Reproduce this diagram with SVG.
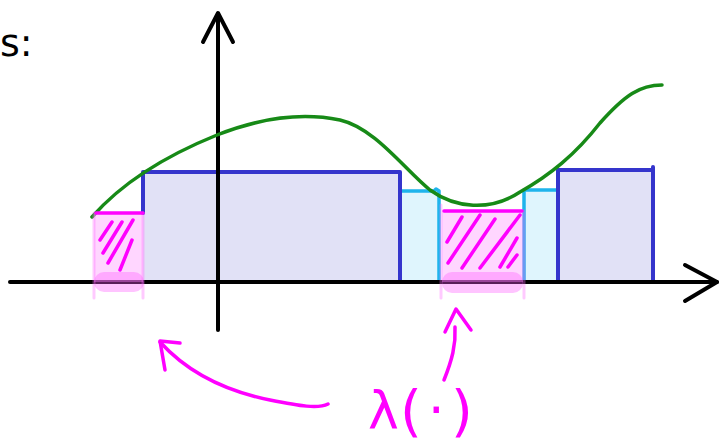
<svg xmlns="http://www.w3.org/2000/svg" width="720" height="442" viewBox="0 0 720 442">
<style>
.ax{fill:none;stroke:#000;stroke-width:4;stroke-linecap:round;stroke-linejoin:round}
.blue{fill:none;stroke:#3535cc;stroke-width:4;stroke-linecap:round;stroke-linejoin:round}
.cyan{fill:none;stroke:#1eb4ec;stroke-width:3.5;stroke-linecap:round;stroke-linejoin:round}
.green{fill:none;stroke:#178a17;stroke-width:3.5;stroke-linecap:round}
.mag{fill:none;stroke:#ff00ff;stroke-width:3.5;stroke-linecap:round;stroke-linejoin:round}
.pale{fill:none;stroke:#ff66ff;stroke-opacity:0.35;stroke-width:3;stroke-linecap:round}
.pinkfill{fill:#ff99ff;fill-opacity:0.4}
.hl{fill:#ff55ff;fill-opacity:0.35}
.lav{fill:#e1e1f6}
.lcy{fill:#dff5fd}
.lbl{font-family:"DejaVu Sans",sans-serif;fill:#ff00ff}
</style>
<rect width="720" height="442" fill="#fff"/>
<text x="0" y="56" font-family="DejaVu Sans, sans-serif" font-size="38" fill="#000">s:</text>
<g id="fills">
<rect class="lav" x="143" y="172" width="257" height="110"/>
<rect class="lcy" x="400" y="191" width="40" height="91"/>
<rect class="lcy" x="524" y="191" width="34" height="91"/>
<rect class="lav" x="558" y="170" width="95" height="112"/>
</g>
<g id="step-lines">
<path class="cyan" d="M400,191 H434 L436,189 L439,191 V282"/>
<path class="cyan" d="M524,282 V190 H557"/>
<path class="blue" d="M143,213 V172 H400 V282"/>
<path class="blue" d="M558,282 V170 H653 V282 M653,282 V167"/>
</g>
<g id="axes">
<path class="ax" d="M10,282 H717"/>
<path class="ax" d="M685,265 L717,282 L685,301"/>
<path class="ax" d="M218,330 V14"/>
<path class="ax" d="M203,42 L218,13 L233,42"/>
</g>
<g id="green-curve">
<path class="green" d="M92,217 C120,185 160,158 217,135 C260,118 300,112 340,120 C375,128 405,170 430,190 C455,208 490,212 520,192 C550,175 575,155 600,123 C625,95 640,85 662,85"/>
</g>
<g id="pink-left">
<rect class="pinkfill" x="94" y="213" width="49" height="69"/>
<rect class="hl" x="94" y="272" width="50" height="20" rx="10"/>
<path class="pale" d="M94,213 V298 M143,213 V298"/>
<path class="mag" d="M96,213 H143"/>
<path class="mag" d="M100,240 L112,222 M103,253 L122,222 M108,263 L133,220 M120,270 L132,240"/>
</g>
<g id="pink-mid">
<rect class="pinkfill" x="442" y="211" width="81" height="71"/>
<rect class="hl" x="442" y="272" width="81" height="21" rx="10"/>
<path class="pale" d="M441,205 V298 M524,211 V298"/>
<path class="mag" d="M444,211 H522"/>
<path class="mag" d="M447,242 L462,217 M448,263 L480,215 M462,268 L495,219 M480,268 L520,215 M500,267 L517,238 M508,267 L517,255"/>
</g>
<g id="connectors">
<path class="mag" d="M328,404 C318,409 300,406 270,400 C230,392 190,375 160,342"/>
<path class="mag" d="M180,343 L160,341 L165,370"/>
<path class="mag" d="M444,380 C452,360 456,345 455,327"/>
<path class="mag" d="M445,332 L456,309 L471,330"/>
</g>
<g id="label">
<text class="lbl" font-size="52" y="428"><tspan x="368">λ</tspan><tspan x="400" font-size="56" y="430">(</tspan><tspan x="428" y="428">·</tspan><tspan x="451" font-size="56" y="430">)</tspan></text>
</g>
</svg>
